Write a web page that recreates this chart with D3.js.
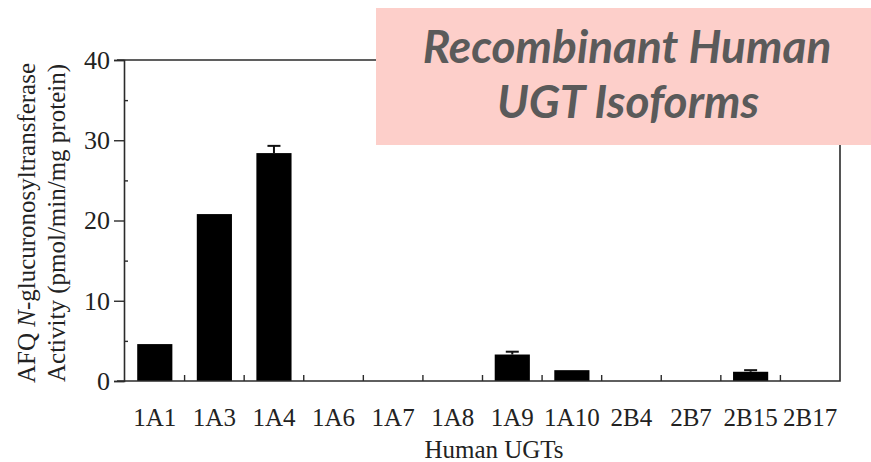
<!DOCTYPE html>
<html>
<head>
<meta charset="utf-8">
<script src="https://cdn.jsdelivr.net/npm/d3@7"></script>
<style>
  body { margin: 0; background: #fff; }
  svg { display: block; }
</style>
</head>
<body>
<svg id="chart"></svg>
<script>
const isoforms = ['1A1', '1A3', '1A4', '1A6', '1A7', '1A8', '1A9', '1A10', '2B4', '2B7', '2B15', '2B17'];
const activity = [4.6, 20.8, 28.4, 0, 0, 0, 3.3, 1.35, 0, 0, 1.15, 0];
const errors = [0, 0, 0.9, 0, 0, 0, 0.35, 0, 0, 0, 0.2, 0];
const yTicks = [0, 10, 20, 30, 40];
const yMinorTicks = [5, 15, 25, 35];

const width = 871, height = 462;
const margin = { top: 60, right: 31, bottom: 81, left: 124 };
const innerW = width - margin.left - margin.right;
const innerH = height - margin.top - margin.bottom;
const serif = '"Liberation Serif", "Times New Roman", serif';
const lineColor = '#2b2b2b';

const data = isoforms.map((k, i) => ({ key: k, value: activity[i], err: errors[i] }));

const svg = d3.select('#chart')
    .attr('width', width)
    .attr('height', height);

const chart = svg.append('g')
    .attr('transform', `translate(${margin.left},${margin.top})`);

const xScale = d3.scaleBand()
    .domain(isoforms)
    .range([1, innerW])
    .paddingInner(0.41)
    .paddingOuter(0.205);

const yScale = d3.scaleLinear()
    .domain([0, 40])
    .range([innerH, 0]);

// bars
chart.selectAll('.bar')
    .data(data.filter(d => d.value > 0))
    .join('rect')
    .attr('class', 'bar')
    .attr('x', d => xScale(d.key))
    .attr('y', d => yScale(d.value))
    .attr('width', xScale.bandwidth())
    .attr('height', d => innerH - yScale(d.value))
    .attr('fill', '#000');

// error bars
const errG = chart.selectAll('.err')
    .data(data.filter(d => d.err > 0))
    .join('g')
    .attr('class', 'err')
    .attr('stroke', '#111')
    .attr('stroke-width', 2);
errG.append('line')
    .attr('x1', d => xScale(d.key) + xScale.bandwidth() / 2)
    .attr('x2', d => xScale(d.key) + xScale.bandwidth() / 2)
    .attr('y1', d => yScale(d.value))
    .attr('y2', d => yScale(d.value + d.err));
errG.append('line')
    .attr('x1', d => xScale(d.key) + xScale.bandwidth() / 2 - 6.5)
    .attr('x2', d => xScale(d.key) + xScale.bandwidth() / 2 + 6.5)
    .attr('y1', d => yScale(d.value + d.err))
    .attr('y2', d => yScale(d.value + d.err));

// frame
chart.append('path')
    .attr('d', `M-7,0H${innerW}V${innerH}H-7`)
    .attr('fill', 'none')
    .attr('stroke', lineColor)
    .attr('stroke-width', 1.6);

// category boundary ticks (inward)
const step = xScale.step();
const bounds = isoforms.slice(1).map(k => xScale(k) - step * xScale.paddingInner() / 2);
chart.selectAll('.xtick')
    .data(bounds)
    .join('line')
    .attr('class', 'xtick')
    .attr('x1', d => d).attr('x2', d => d)
    .attr('y1', innerH).attr('y2', innerH - 6)
    .attr('stroke', lineColor)
    .attr('stroke-width', 1.4);

// x labels
const xAxis = d3.axisBottom(xScale).tickSize(0).tickPadding(27);
const xAxisG = chart.append('g')
    .attr('transform', `translate(0,${innerH})`)
    .call(xAxis);
xAxisG.select('.domain').remove();
xAxisG.selectAll('text')
    .attr('font-family', serif)
    .attr('font-size', 25)
    .attr('fill', '#222');

// y axis
const yAxis = d3.axisLeft(yScale).tickValues(yTicks).tickSize(10).tickPadding(4);
const yAxisG = chart.append('g').call(yAxis);
yAxisG.select('.domain').attr('stroke', lineColor).attr('stroke-width', 1.6);
yAxisG.selectAll('.tick line').attr('stroke', lineColor).attr('stroke-width', 1.4);
yAxisG.selectAll('text')
    .attr('font-family', serif)
    .attr('font-size', 26)
    .attr('fill', '#222');

const yMinor = d3.axisRight(yScale).tickValues(yMinorTicks).tickSize(4).tickFormat('');
const yMinorG = chart.append('g').call(yMinor);
yMinorG.select('.domain').remove();
yMinorG.selectAll('.tick line').attr('stroke', lineColor).attr('stroke-width', 1.4);

// axis titles
svg.append('text')
    .attr('x', 494)
    .attr('y', 458)
    .attr('text-anchor', 'middle')
    .attr('font-family', serif)
    .attr('font-size', 25)
    .attr('fill', '#222')
    .text('Human UGTs');

const yTitle = svg.append('g')
    .attr('font-family', serif)
    .attr('font-size', 25)
    .attr('fill', '#222')
    .attr('text-anchor', 'middle');
const t1 = yTitle.append('text')
    .attr('transform', 'translate(35,223) rotate(-90)');
t1.append('tspan').text('AFQ ');
t1.append('tspan').attr('font-style', 'italic').text('N');
t1.append('tspan').text('-glucuronosyltransferase');
yTitle.append('text')
    .attr('transform', 'translate(65,223) rotate(-90)')
    .text('Activity (pmol/min/mg protein)');

// overlay label box
const box = svg.append('g');
box.append('rect')
    .attr('x', 376)
    .attr('y', 8)
    .attr('width', width - 376)
    .attr('height', 137)
    .attr('fill', '#fdcfca');
const boxText = box.append('text')
    .attr('font-family', 'Lato, "Open Sans", sans-serif')
    .attr('font-weight', 'bold')
    .attr('font-style', 'italic')
    .attr('font-size', 46)
    .attr('fill', '#5a5a5a')
    .attr('text-anchor', 'middle');
boxText.append('tspan').attr('x', 627).attr('y', 63).text('Recombinant Human');
boxText.append('tspan').attr('x', 628).attr('y', 118).text('UGT Isoforms');
</script>
</body>
</html>
